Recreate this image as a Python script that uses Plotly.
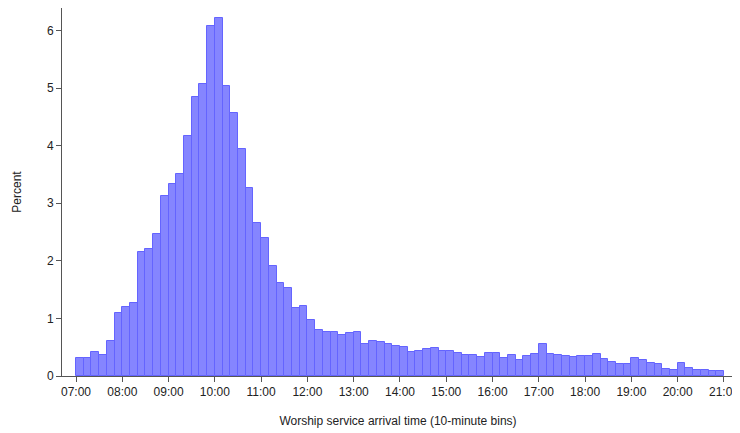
import plotly.graph_objects as go
import pandas as pd

# 10-minute bin start times (07:00 .. 20:50)
bin_starts = [f"{h:02d}:{m:02d}" for h in range(7, 21) for m in range(0, 60, 10)]

percent = [
    0.31, 0.32, 0.41, 0.36, 0.61, 1.10,   # 07
    1.19, 1.27, 2.16, 2.20, 2.47, 3.13,   # 08
    3.33, 3.50, 4.16, 4.84, 5.07, 6.08,   # 09
    6.21, 5.03, 4.56, 3.94, 3.27, 2.65,   # 10
    2.40, 1.91, 1.62, 1.52, 1.18, 1.21,   # 11
    0.98, 0.80, 0.76, 0.76, 0.72, 0.74,   # 12
    0.77, 0.55, 0.61, 0.59, 0.55, 0.52,   # 13
    0.51, 0.42, 0.44, 0.47, 0.49, 0.43,   # 14
    0.43, 0.40, 0.36, 0.36, 0.33, 0.40,   # 15
    0.40, 0.32, 0.37, 0.27, 0.34, 0.38,   # 16
    0.56, 0.39, 0.36, 0.35, 0.33, 0.34,   # 17
    0.34, 0.38, 0.29, 0.25, 0.20, 0.20,   # 18
    0.31, 0.28, 0.22, 0.20, 0.13, 0.11,   # 19
    0.22, 0.14, 0.10, 0.11, 0.08, 0.08,   # 20
]

tick_labels = [f"{h:02d}:00" for h in range(7, 22)]

DAY = "2000-01-01 "
x_start = pd.to_datetime([DAY + t for t in bin_starts])
bin_ms = 10 * 60 * 1000
x_center = x_start + pd.Timedelta(minutes=5)
tick_vals = pd.to_datetime([DAY + t for t in tick_labels])

fig = go.Figure(
    go.Bar(
        x=x_center,
        y=percent,
        width=[bin_ms] * len(percent),
        marker=dict(color="#8585ff", line=dict(color="#6464ff", width=1)),
        hoverinfo="x+y",
    )
)

axis_font = dict(family="Liberation Sans, Arial, sans-serif", size=12, color="#222")

# page body has an 8px default margin, so the figure is sized to fit the 740x433 window
fig.update_layout(
    width=732,
    height=425,
    margin=dict(l=54, r=6, t=0, b=57),
    plot_bgcolor="white",
    paper_bgcolor="white",
    showlegend=False,
    bargap=0,
    font=axis_font,
    xaxis=dict(
        type="date",
        range=[DAY + "06:41:50", DAY + "21:13:00"],
        tickvals=list(tick_vals),
        ticktext=tick_labels,
        ticks="outside",
        ticklen=5,
        tickcolor="#555",
        showline=True,
        linecolor="#555",
        linewidth=1,
        showgrid=False,
        zeroline=False,
        tickfont=axis_font,
        title=dict(text="Worship service arrival time (10-minute bins)", font=axis_font, standoff=18),
    ),
    yaxis=dict(
        range=[0, 6.39],
        tickvals=[0, 1, 2, 3, 4, 5, 6],
        ticks="outside",
        ticklen=5,
        tickcolor="#555",
        showline=True,
        linecolor="#555",
        linewidth=1,
        showgrid=False,
        zeroline=False,
        tickfont=axis_font,
        title=dict(text="Percent", font=axis_font, standoff=22),
    ),
)

fig.write_html("out.html")
